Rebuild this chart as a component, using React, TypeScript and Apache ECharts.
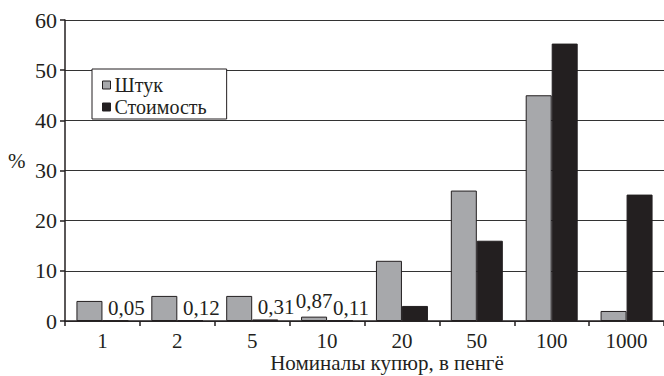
import React, { useEffect, useRef } from "react";
import * as echarts from "echarts";

const categories = ["1", "2", "5", "10", "20", "50", "100", "1000"];
const piecesShare = [4, 5, 5, 0.87, 12, 26, 45, 2];
const valueShare = [0.05, 0.12, 0.31, 0.11, 3, 16, 55.3, 25.2];
const piecesLabeled = [false, false, false, true, false, false, false, false];
const valueLabeled = [true, true, true, true, false, false, false, false];
const yTicks = [0, 10, 20, 30, 40, 50, 60];

const FONT = "'Liberation Serif', 'Times New Roman', serif";
const INK = "#231f20";
const GRAY = "#a7a8ab";

const fmt = (v: number) => String(v).replace(".", ",");

export default function App() {
  const ref = useRef<HTMLDivElement>(null);
  useEffect(() => {
    if (!ref.current) return;
    const chart = echarts.init(ref.current, undefined, { renderer: "svg" });
    const mk = (vals: number[], labeled: boolean[], offset: number[]) =>
      vals.map((v, i) =>
        labeled[i]
          ? {
              value: v,
              label: {
                show: true,
                position: "top",
                distance: 2,
                offset,
                formatter: (p: any) => fmt(p.value),
                fontFamily: FONT,
                fontSize: 21,
                color: INK,
              },
            }
          : v
      );
    chart.setOption({
      animation: false,
      backgroundColor: "#ffffff",
      textStyle: { fontFamily: FONT, color: INK },
      grid: { left: 65, top: 20, width: 601, height: 301, containLabel: false },
      legend: {
        orient: "vertical",
        left: 92,
        top: 69,
        icon: "rect",
        itemWidth: 8,
        itemHeight: 8,
        itemGap: 0,
        itemStyle: { borderColor: INK, borderWidth: 1 },
        backgroundColor: "#ffffff",
        borderColor: INK,
        borderWidth: 1,
        padding: [5, 20, 1, 10],
        textStyle: { fontFamily: FONT, fontSize: 20, color: INK, lineHeight: 22, padding: [0, 0, 0, -1] },
        data: ["Штук", "Стоимость"],
      },
      xAxis: {
        type: "category",
        data: categories,
        axisLine: { lineStyle: { color: INK, width: 1.5 } },
        axisTick: { show: true, length: 5, lineStyle: { color: INK, width: 1.5 } },
        axisLabel: { fontFamily: FONT, fontSize: 21, color: INK, margin: 9 },
        splitLine: { show: false },
      },
      yAxis: {
        type: "value",
        min: yTicks[0],
        max: yTicks[yTicks.length - 1],
        interval: 10,
        axisLine: { show: true, lineStyle: { color: INK, width: 1.5 } },
        axisTick: { show: true, length: 5, lineStyle: { color: INK, width: 1.5 } },
        axisLabel: { fontFamily: FONT, fontSize: 22, color: INK, margin: 8 },
        splitLine: { show: true, lineStyle: { color: "#333333", width: 1 } },
      },
      graphic: [
        {
          type: "text",
          left: 8,
          top: 150,
          style: { text: "%", fontFamily: FONT, fontSize: 21, fill: INK },
        },
        {
          type: "text",
          x: 387,
          y: 363,
          style: {
            text: "Номиналы купюр, в пенгё",
            fontFamily: FONT,
            fontSize: 21,
            fill: INK,
            align: "center",
            verticalAlign: "middle",
          },
        },
      ],
      series: [
        {
          name: "Штук",
          type: "bar",
          barWidth: 26,
          barGap: "0%",
          itemStyle: { color: GRAY, borderColor: INK, borderWidth: 1 },
          data: mk(piecesShare, piecesLabeled, [0, -3]),
        },
        {
          name: "Стоимость",
          type: "bar",
          barWidth: 26,
          barGap: "0%",
          itemStyle: { color: INK, borderColor: INK, borderWidth: 1 },
          data: mk(valueShare, valueLabeled, [11, 0]),
        },
      ],
    });
    return () => chart.dispose();
  }, []);
  return (
    <div
      ref={ref}
      style={{ position: "absolute", left: 0, top: 0, width: 664, height: 376 }}
    />
  );
}
